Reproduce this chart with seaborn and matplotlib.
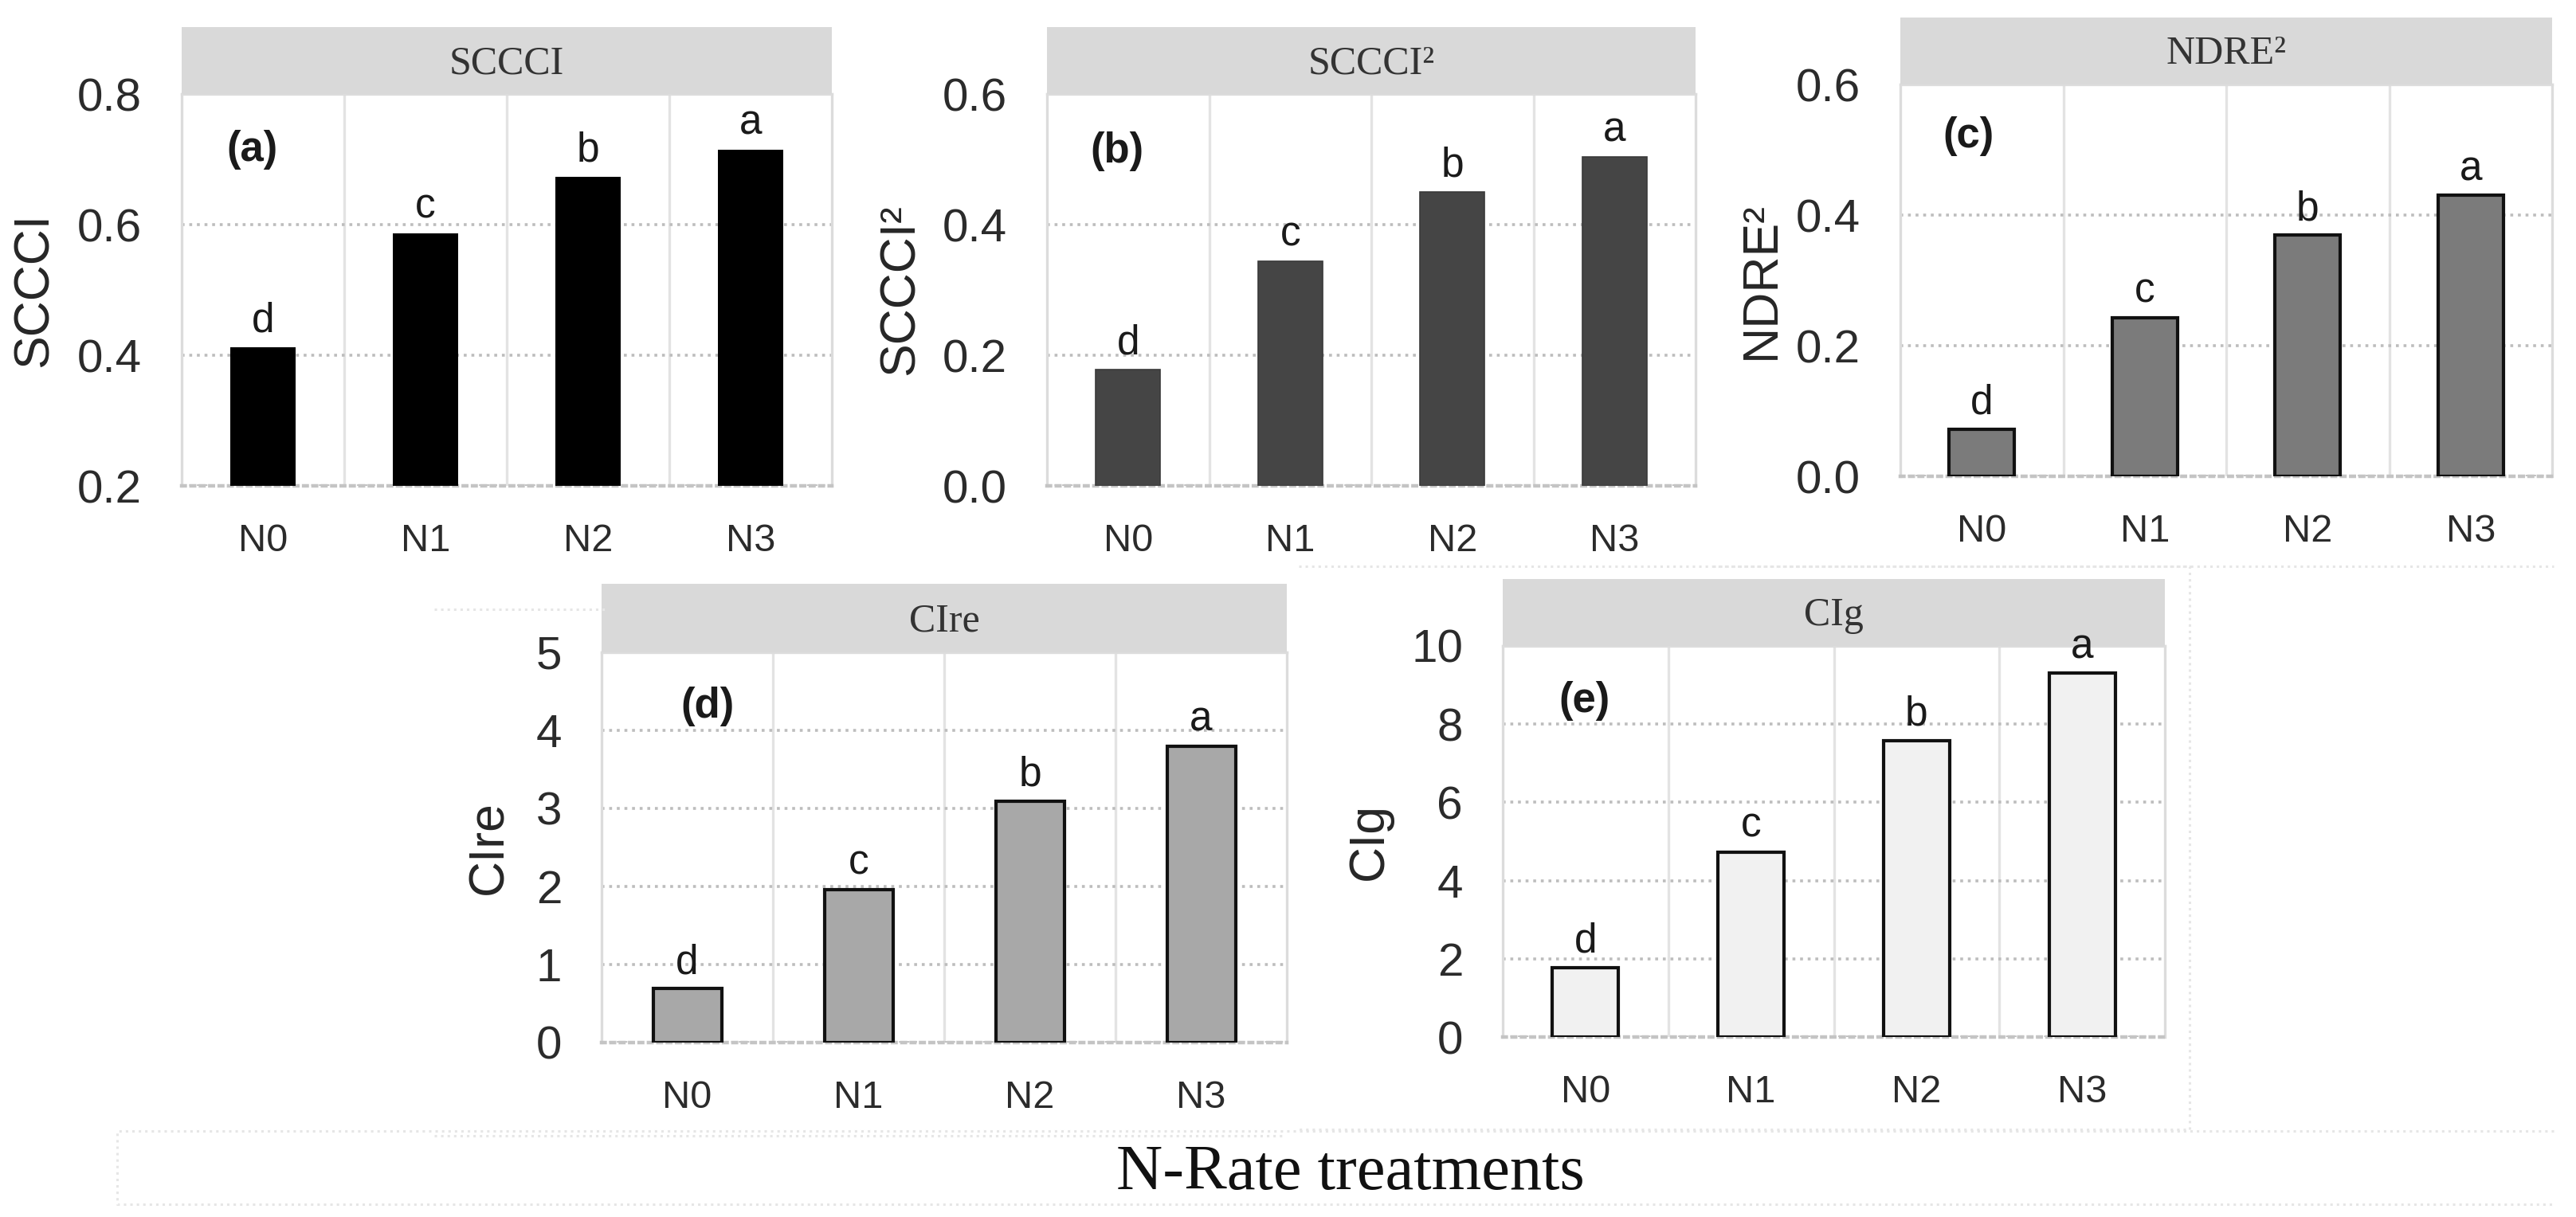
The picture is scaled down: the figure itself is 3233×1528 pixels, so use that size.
import matplotlib
matplotlib.use("Agg")
import matplotlib.pyplot as plt
from matplotlib.patches import Rectangle
from matplotlib.lines import Line2D
import seaborn as sns
import pandas as pd

# DATA
treatments = ["N0", "N1", "N2", "N3"]
sccci = [0.412, 0.587, 0.673, 0.715]
sccci2 = [0.178, 0.344, 0.450, 0.504]
ndre2 = [0.072, 0.243, 0.369, 0.430]
clre = [0.69, 1.96, 3.09, 3.80]
clg = [1.77, 4.73, 7.58, 9.30]
letters = ["d", "c", "b", "a"]

titles = ["SCCCI", "SCCCI²", "NDRE²", "CIre", "CIg"]
tags = ["(a)", "(b)", "(c)", "(d)", "(e)"]
y_ticks = [
    [0.2, 0.4, 0.6, 0.8],
    [0.0, 0.2, 0.4, 0.6],
    [0.0, 0.2, 0.4, 0.6],
    [0, 1, 2, 3, 4, 5],
    [0, 2, 4, 6, 8, 10],
]
y_ticklabels = [
    ["0.2", "0.4", "0.6", "0.8"],
    ["0.0", "0.2", "0.4", "0.6"],
    ["0.0", "0.2", "0.4", "0.6"],
    ["0", "1", "2", "3", "4", "5"],
    ["0", "2", "4", "6", "8", "10"],
]
series = [sccci, sccci2, ndre2, clre, clg]

# STYLE
sns.set_style("white")
plt.rcParams["font.family"] = ["Liberation Sans", "DejaVu Sans"]

W, H = 3233, 1528
fig = plt.figure(figsize=(W / 200, H / 200), dpi=200)

def px_box(x0, y0, x1, y1):
    # pixel box (top-left origin) -> figure fraction rect
    return [x0 / W, 1 - y1 / H, (x1 - x0) / W, (y1 - y0) / H]

# layout for each panel: axes box, strip height, tag pos, ylabel x
panels = [
    dict(box=(228, 118, 1044, 610), strip=84, tag=(0.108, 0.858), ylx=-0.19,
         fc="#000000", ec="#000000", lw=0),
    dict(box=(1314, 118, 2128, 610), strip=84, tag=(0.108, 0.854), ylx=-0.19,
         fc="#454545", ec="#3a3a3a", lw=0.6),
    dict(box=(2385, 106, 3203, 598), strip=84, tag=(0.105, 0.867), ylx=-0.178,
         fc="#7b7b7b", ec="#111111", lw=1.5),
    dict(box=(755, 819, 1615, 1309), strip=86, tag=(0.155, 0.861), ylx=-0.13,
         fc="#a8a8a8", ec="#111111", lw=1.5),
    dict(box=(1886, 811, 2717, 1302), strip=84, tag=(0.123, 0.86), ylx=-0.166,
         fc="#f1f1f1", ec="#111111", lw=1.5),
]

for i, p in enumerate(panels):
    ax = fig.add_axes(px_box(*p["box"]))
    df = pd.DataFrame({"treatment": treatments, "value": series[i]})
    sns.barplot(data=df, x="treatment", y="value", ax=ax, color=p["fc"],
                saturation=1, width=0.4, edgecolor=p["ec"], linewidth=p["lw"],
                errorbar=None, zorder=3)

    ax.set_xlim(-0.5, 3.5)
    ax.set_ylim(y_ticks[i][0], y_ticks[i][-1])
    ax.set_yticks(y_ticks[i])
    ax.set_yticklabels(y_ticklabels[i])
    ax.tick_params(axis="y", length=0, pad=18, labelsize=21, labelcolor="#2b2b2b")
    ax.tick_params(axis="x", length=0, pad=17, labelsize=17.5, labelcolor="#2b2b2b")
    ax.set_xlabel("")

    # grid: dotted horizontal, light vertical between categories
    ax.set_axisbelow(True)
    ax.set_xticks([0.5, 1.5, 2.5], minor=True)
    ax.tick_params(axis="x", which="minor", length=0)
    ax.yaxis.grid(True, linestyle=":", color="#bdbdbd", linewidth=1.3)
    ax.xaxis.grid(True, which="minor", linestyle="-", color="#e3e3e3", linewidth=1.2)
    ax.xaxis.grid(False, which="major")
    for s in ax.spines.values():
        s.set_color("#dcdcdc")
        s.set_linewidth(1.2)
    ax.spines["bottom"].set_linestyle(":")
    ax.spines["bottom"].set_color("#c4c4c4")
    ax.spines["bottom"].set_linewidth(1.6)

    # y label
    ax.set_ylabel(titles[i], fontsize=22.5, color="#262626")
    ax.yaxis.set_label_coords(p["ylx"], 0.5)

    # strip title on top
    x0, y0, x1, y1 = p["box"]
    sh = p["strip"] / (y1 - y0)
    ax.add_patch(Rectangle((0, 1), 1, sh, transform=ax.transAxes, clip_on=False,
                           facecolor="#d9d9d9", edgecolor="none", zorder=4))
    ax.text(0.5, 1 + sh * 0.45, titles[i], transform=ax.transAxes, ha="center",
            va="center", fontsize=18, color="#333333", zorder=6, clip_on=False,
            family=["Liberation Serif", "DejaVu Serif"])

    # panel tag
    ax.text(p["tag"][0], p["tag"][1], tags[i], transform=ax.transAxes,
            ha="center", va="center", fontsize=19, fontweight="bold",
            color="#1a1a1a")

    # significance letters
    for j, v in enumerate(series[i]):
        ax.annotate(letters[j], (j, v), xytext=(0, 3), textcoords="offset points",
                    ha="center", va="bottom", fontsize=18.5, color="#1a1a1a",
                    zorder=5)

# faint dotted chart-area borders
def dotted(xs, ys):
    fig.add_artist(Line2D([x / W for x in xs], [1 - y / H for y in ys],
                          linestyle=":", color="#e6e6e6", linewidth=1.1))

dotted([3205, 147, 147, 3205], [1420, 1420, 1512, 1512])
dotted([545, 760], [765, 765])
dotted([545, 1610], [1426, 1426])
dotted([1630, 2748, 2748, 1630], [711, 711, 1418, 1418])
dotted([2150, 3205], [711, 711])

# common x label
fig.text(1695 / W, 1 - 1474 / H, "N-Rate treatments", ha="center", va="center",
         fontsize=29, color="#111111", family=["Liberation Serif", "DejaVu Serif"])

fig.savefig("out.png", dpi=200, facecolor="white")
